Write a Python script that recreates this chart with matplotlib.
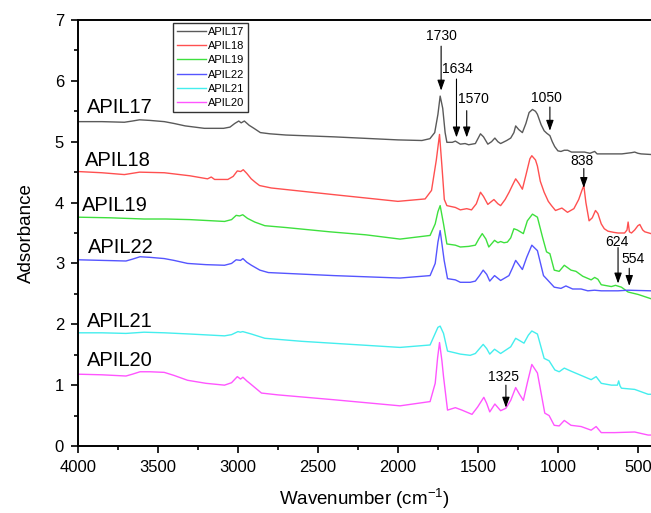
import matplotlib
matplotlib.use("agg")
import matplotlib.pyplot as plt
from matplotlib.ticker import MultipleLocator

plt.rcParams['font.family'] = 'Liberation Sans'
plt.rcParams['mathtext.fontset'] = 'custom'
plt.rcParams['mathtext.rm'] = 'Liberation Sans'
plt.rcParams['mathtext.it'] = 'Liberation Sans:italic'

# FTIR spectra, wavenumber (cm-1) and absorbance (offset stacked)
wn17 = [4000, 3850, 3710, 3660, 3615, 3550, 3460, 3400, 3330, 3210, 3090, 3050, 3020, 2995, 2980, 2960,
        2930, 2900, 2860, 2800, 2700, 2400, 2000, 1850, 1800, 1770, 1750, 1736, 1720, 1705, 1694, 1660,
        1641, 1610, 1580, 1558, 1516, 1500, 1484, 1465, 1438, 1415, 1394, 1375, 1358, 1320, 1295, 1275,
        1264, 1245, 1222, 1200, 1180, 1159, 1140, 1128, 1105, 1086, 1070, 1050, 1035, 1020, 1000, 981,
        960, 939, 915, 897, 834, 800, 770, 755, 740, 700, 600, 540, 520, 500, 480, 418]
a17 = [5.33, 5.33, 5.32, 5.34, 5.36, 5.35, 5.33, 5.30, 5.26, 5.22, 5.22, 5.24, 5.30, 5.34, 5.31, 5.34,
       5.27, 5.22, 5.15, 5.13, 5.11, 5.08, 5.03, 5.02, 5.05, 5.15, 5.45, 5.75, 5.55, 5.15, 4.99, 4.99,
       5.01, 4.96, 4.97, 4.95, 4.97, 5.05, 5.13, 5.08, 4.96, 5.00, 5.06, 5.00, 4.97, 5.02, 5.06, 5.15,
       5.26, 5.20, 5.15, 5.30, 5.48, 5.53, 5.50, 5.45, 5.28, 5.18, 5.14, 5.10, 5.00, 4.92, 4.85, 4.84,
       4.86, 4.86, 4.83, 4.83, 4.83, 4.81, 4.84, 4.80, 4.80, 4.80, 4.80, 4.82, 4.83, 4.81, 4.80, 4.79]

wn18 = [4000, 3850, 3710, 3615, 3460, 3300, 3190, 3167, 3146, 3063, 3030, 3004, 2983, 2967, 2945, 2917,
        2890, 2865, 2792, 2400, 2000, 1830, 1790, 1760, 1740, 1725, 1710, 1694, 1641, 1610, 1570, 1540,
        1510, 1484, 1465, 1438, 1400, 1375, 1358, 1330, 1305, 1285, 1264, 1245, 1222, 1200, 1175, 1163,
        1140, 1128, 1110, 1086, 1060, 1040, 1015, 975, 940, 900, 870, 850, 838, 825, 805, 785, 765, 750,
        729, 710, 687, 650, 624, 583, 568, 561, 553, 540, 520, 500, 488, 470, 457, 418]
a18 = [4.51, 4.49, 4.46, 4.50, 4.49, 4.44, 4.39, 4.42, 4.38, 4.38, 4.43, 4.52, 4.51, 4.54, 4.48, 4.39,
       4.33, 4.28, 4.24, 4.13, 4.02, 4.06, 4.20, 4.70, 5.12, 4.60, 4.05, 3.95, 3.92, 3.88, 3.90, 3.88,
       3.98, 4.17, 4.10, 3.97, 4.05, 3.98, 3.95, 4.05, 4.17, 4.28, 4.39, 4.32, 4.22, 4.45, 4.72, 4.77,
       4.70, 4.60, 4.35, 4.17, 4.02, 3.95, 3.87, 3.91, 3.84, 3.90, 4.05, 4.20, 4.28, 4.00, 3.70, 3.75,
       3.87, 3.82, 3.65, 3.57, 3.53, 3.51, 3.50, 3.50, 3.55, 3.68, 3.52, 3.50, 3.55, 3.62, 3.64, 3.55,
       3.52, 3.49]

wn19 = [4000, 3800, 3587, 3450, 3300, 3084, 3040, 3011, 2990, 2970, 2940, 2895, 2832, 2700, 2428, 2200,
        1987, 1799, 1767, 1750, 1736, 1715, 1694, 1641, 1610, 1558, 1516, 1495, 1473, 1450, 1432, 1396,
        1375, 1358, 1337, 1316, 1295, 1275, 1254, 1216, 1191, 1159, 1128, 1096, 1071, 1050, 1023, 992,
        960, 918, 887, 845, 792, 770, 750, 729, 666, 640, 603, 561, 498, 418]
a19 = [3.76, 3.75, 3.73, 3.73, 3.72, 3.69, 3.72, 3.79, 3.78, 3.80, 3.74, 3.68, 3.62, 3.59, 3.52, 3.47,
       3.40, 3.46, 3.65, 3.85, 3.95, 3.65, 3.32, 3.30, 3.27, 3.28, 3.30, 3.40, 3.49, 3.40, 3.27, 3.38,
       3.34, 3.36, 3.34, 3.35, 3.42, 3.57, 3.55, 3.49, 3.70, 3.81, 3.76, 3.43, 3.19, 3.16, 2.89, 2.87,
       2.97, 2.89, 2.87, 2.79, 2.73, 2.77, 2.74, 2.65, 2.62, 2.64, 2.61, 2.53, 2.49, 2.42]

wn22 = [4000, 3850, 3700, 3660, 3612, 3550, 3461, 3400, 3315, 3200, 3084, 3040, 3011, 2984, 2969, 2945,
        2916, 2863, 2810, 2400, 1987, 1799, 1767, 1750, 1736, 1711, 1690, 1641, 1610, 1548, 1516, 1490,
        1467, 1445, 1426, 1396, 1358, 1306, 1285, 1264, 1222, 1195, 1163, 1128, 1090, 1065, 1023, 981,
        950, 908, 855, 813, 771, 729, 624, 561, 418]
a22 = [3.06, 3.05, 3.04, 3.07, 3.11, 3.10, 3.08, 3.05, 3.00, 2.98, 2.97, 3.00, 3.06, 3.05, 3.08, 3.02,
       2.97, 2.89, 2.85, 2.80, 2.76, 2.80, 3.00, 3.35, 3.54, 3.05, 2.75, 2.73, 2.69, 2.69, 2.71, 2.80,
       2.89, 2.82, 2.71, 2.80, 2.72, 2.80, 2.92, 3.05, 2.90, 3.10, 3.30, 3.21, 2.80, 2.73, 2.61, 2.59,
       2.63, 2.58, 2.58, 2.55, 2.56, 2.55, 2.55, 2.56, 2.55]

wn21 = [4000, 3850, 3700, 3587, 3458, 3300, 3084, 3040, 3000, 2985, 2970, 2916, 2832, 2600, 1987, 1799,
        1767, 1750, 1736, 1715, 1690, 1641, 1610, 1548, 1516, 1490, 1467, 1445, 1426, 1396, 1358, 1295,
        1264, 1212, 1185, 1163, 1128, 1086, 1055, 1019, 992, 960, 918, 855, 792, 761, 729, 666, 628,
        620, 612, 603, 520, 436, 418]
a21 = [1.86, 1.86, 1.85, 1.87, 1.86, 1.84, 1.81, 1.83, 1.88, 1.87, 1.88, 1.84, 1.77, 1.72, 1.62, 1.66,
       1.85, 1.95, 1.97, 1.85, 1.56, 1.53, 1.51, 1.49, 1.52, 1.60, 1.67, 1.60, 1.51, 1.59, 1.52, 1.63,
       1.77, 1.69, 1.82, 1.89, 1.84, 1.44, 1.40, 1.25, 1.22, 1.28, 1.23, 1.16, 1.09, 1.14, 1.03, 1.00,
       1.00, 1.07, 0.99, 0.95, 0.93, 0.85, 0.85]

wn20 = [4000, 3850, 3700, 3660, 3612, 3550, 3461, 3400, 3315, 3200, 3084, 3040, 3004, 2984, 2969, 2945,
        2926, 2853, 2750, 2400, 1987, 1799, 1767, 1752, 1740, 1725, 1715, 1690, 1641, 1600, 1537, 1502,
        1463, 1445, 1426, 1394, 1358, 1325, 1295, 1264, 1240, 1216, 1190, 1163, 1128, 1082, 1055, 1023,
        992, 960, 918, 855, 792, 761, 729, 645, 520, 436, 418]
a20 = [1.18, 1.17, 1.15, 1.18, 1.22, 1.22, 1.21, 1.16, 1.08, 1.03, 1.00, 1.04, 1.14, 1.10, 1.13, 1.07,
       1.03, 0.87, 0.84, 0.76, 0.66, 0.73, 1.03, 1.45, 1.70, 1.40, 1.14, 0.59, 0.63, 0.59, 0.52, 0.64,
       0.80, 0.70, 0.56, 0.69, 0.58, 0.62, 0.75, 0.96, 0.85, 0.75, 1.05, 1.34, 1.20, 0.54, 0.50, 0.34,
       0.33, 0.42, 0.34, 0.32, 0.26, 0.32, 0.22, 0.22, 0.23, 0.18, 0.18]

series = [
    ('APIL17', wn17, a17, '#5a5a5a'),
    ('APIL18', wn18, a18, '#ff5050'),
    ('APIL19', wn19, a19, '#3ee03e'),
    ('APIL22', wn22, a22, '#5555ff'),
    ('APIL21', wn21, a21, '#44eeee'),
    ('APIL20', wn20, a20, '#ff55ff'),
]

# text labels beside each trace: (name, x, y)
trace_labels = [('APIL17', 3944, 5.56), ('APIL18', 3956, 4.69), ('APIL19', 3975, 3.95),
                ('APIL22', 3937, 3.26), ('APIL21', 3944, 2.05), ('APIL20', 3944, 1.41)]

# peak markers: (label, arrow x, tail y, tip y, text x, text y, text alignment)
peaks = [('1730', 1730, 6.57, 5.84, 1730, 6.74, 'center'),
         ('1634', 1634, 6.03, 5.07, 1722, 6.20, 'left'),
         ('1570', 1570, 5.51, 5.07, 1622, 5.70, 'left'),
         ('1050', 1050, 5.57, 5.18, 1070, 5.72, 'center'),
         ('838', 838, 4.56, 4.24, 850, 4.69, 'center'),
         ('624', 624, 3.26, 2.67, 633, 3.35, 'center'),
         ('554', 554, 2.92, 2.63, 600, 3.08, 'left'),
         ('1325', 1325, 1.00, 0.63, 1340, 1.13, 'center')]

fig = plt.figure(figsize=(6.51, 5.13), dpi=100)
ax = fig.add_axes([0.1198, 0.1306, 0.8802, 0.8304])

for name, x, y, c in series:
    ax.plot(x, y, color=c, lw=1.0, label=name)

for name, x, y in trace_labels:
    ax.text(x, y, name, fontsize=14.5, ha='left', va='center')

for lab, xa, y0, y1, xt, yt, ha in peaks:
    ax.annotate('', xy=(xa, y1), xytext=(xa, y0),
                arrowprops=dict(arrowstyle='-|>,head_length=0.45,head_width=0.16',
                                color='black', lw=0.8, mutation_scale=14, shrinkA=0, shrinkB=0))
    ax.text(xt, yt, lab, fontsize=10, ha=ha, va='center')

ax.set_xlim(4000, 418)
ax.set_ylim(0, 7)
ax.xaxis.set_major_locator(MultipleLocator(500))
ax.xaxis.set_minor_locator(MultipleLocator(250))
ax.yaxis.set_major_locator(MultipleLocator(1))
ax.yaxis.set_minor_locator(MultipleLocator(0.5))
ax.tick_params(which='both', direction='out', width=1.2, labelsize=12, top=False, right=False)
ax.tick_params(which='major', length=5, pad=5)
ax.tick_params(which='minor', length=3)
for s in ['left', 'bottom', 'top']:
    ax.spines[s].set_linewidth(1.4)
ax.spines['right'].set_visible(False)

ax.set_xlabel(r'Wavenumber (cm$^{-1}$)', fontsize=13.5, labelpad=9)
ax.set_ylabel('Adsorbance', fontsize=13.5, labelpad=14)

leg = ax.legend(loc='upper left', bbox_to_anchor=(0.166, 0.993), fontsize=8,
                frameon=True, fancybox=False, handlelength=2.6, handletextpad=0.2,
                labelspacing=0.38, borderpad=0.35, borderaxespad=0)
leg.get_frame().set_edgecolor('black')
leg.get_frame().set_linewidth(1.0)

plt.savefig('out.png', dpi=100)
plt.close()
